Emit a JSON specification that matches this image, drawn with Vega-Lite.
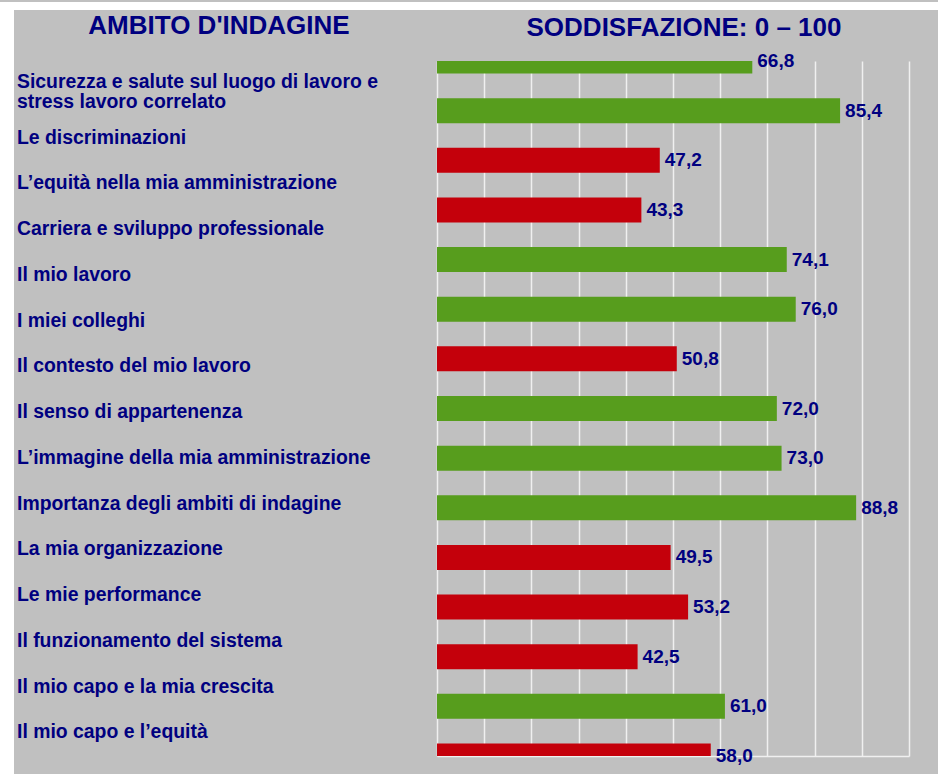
{
  "$schema": "https://vega.github.io/schema/vega-lite/v6.json",
  "background": "#c0c0c0",
  "padding": 0,
  "spacing": 0,
  "bounds": "flush",
  "datasets": {
    "ambiti": [
      {"ambito": "Sicurezza e salute sul luogo di lavoro e\nstress lavoro correlato", "value": 66.8},
      {"ambito": "Le discriminazioni", "value": 85.4},
      {"ambito": "L’equità nella mia amministrazione", "value": 47.2},
      {"ambito": "Carriera e sviluppo professionale", "value": 43.3},
      {"ambito": "Il mio lavoro", "value": 74.1},
      {"ambito": "I miei colleghi", "value": 76.0},
      {"ambito": "Il contesto del mio lavoro", "value": 50.8},
      {"ambito": "Il senso di appartenenza", "value": 72.0},
      {"ambito": "L’immagine della mia amministrazione", "value": 73.0},
      {"ambito": "Importanza degli ambiti di indagine", "value": 88.8},
      {"ambito": "La mia organizzazione", "value": 49.5},
      {"ambito": "Le mie performance", "value": 53.2},
      {"ambito": "Il funzionamento del sistema", "value": 42.5},
      {"ambito": "Il mio capo e la mia crescita", "value": 61.0},
      {"ambito": "Il mio capo e l’equità", "value": 58.0}
    ]
  },
  "config": {
    "view": {"stroke": null},
    "locale": {"number": {"decimal": ",", "thousands": ".", "grouping": [3], "currency": ["€", ""]}},
    "text": {"font": "Liberation Sans", "fontWeight": "bold", "color": "#000080"}
  },
  "vconcat": [
    {
      "width": 938,
      "height": 8,
      "view": {"fill": "white", "stroke": null},
      "data": {"values": [{}]},
      "mark": {"type": "text", "text": ""},
      "encoding": {}
    },
    {
      "spacing": 0,
      "bounds": "flush",
      "hconcat": [
        {
          "width": 14,
          "height": 766,
          "view": {"fill": "white", "stroke": null},
          "data": {"values": [{}]},
          "mark": {"type": "text", "text": ""},
          "encoding": {}
        },
        {
          "width": 423,
          "height": 732,
          "layer": [
            {
              "data": {"values": [{}]},
              "mark": {"type": "text", "text": "AMBITO D'INDAGINE", "fontSize": 26, "align": "center", "baseline": "middle"},
              "encoding": {"x": {"value": 205}, "y": {"value": 15.5}}
            },
            {
              "data": {"name": "ambiti"},
              "mark": {"type": "text", "align": "left", "baseline": "middle", "fontSize": 19.4, "lineBreak": "\n", "lineHeight": 20, "dx": 3,
                       "dy": {"expr": "indexof(datum.ambito, '\\n') >= 0 ? -10 : 0"}},
              "encoding": {
                "x": {"datum": 0, "type": "quantitative", "scale": {"domain": [0, 1]}, "axis": null},
                "y": {"field": "ambito", "type": "nominal", "sort": null, "scale": {"type": "point", "padding": 1, "align": 0.896}, "axis": null},
                "text": {"field": "ambito"}
              }
            }
          ]
        },
        {
          "spacing": 0,
          "bounds": "flush",
          "vconcat": [
            {
              "width": 472,
              "height": 51,
              "data": {"values": [{}]},
              "mark": {"type": "text", "text": "SODDISFAZIONE: 0 – 100", "fontSize": 26, "align": "center", "baseline": "middle"},
              "encoding": {"x": {"value": 247}, "y": {"value": 17.5}}
            },
            {
              "width": 472,
              "height": 695,
              "data": {"name": "ambiti"},
              "encoding": {
                "y": {"field": "ambito", "type": "nominal", "sort": null, "scale": {"type": "point", "padding": 0}, "axis": null}
              },
              "layer": [
                {
                  "mark": {"type": "bar", "height": 25, "clip": true},
                  "encoding": {
                    "x": {
                      "field": "value", "type": "quantitative",
                      "scale": {"domain": [0, 100], "nice": false, "zero": true},
                      "axis": {"values": [0, 10, 20, 30, 40, 50, 60, 70, 80, 90, 100], "grid": true, "gridColor": "#f0f0f0", "gridWidth": 1.5, "gridOpacity": 1, "labels": false, "ticks": false, "domain": true, "domainColor": "#f0f0f0", "domainWidth": 1.5, "title": null}
                    },
                    "color": {"condition": {"test": "datum.value >= 60", "value": "#579d1d"}, "value": "#c4000b"}
                  }
                },
                {
                  "mark": {"type": "text", "align": "left", "baseline": "middle", "dx": 5, "fontSize": 19},
                  "encoding": {
                    "x": {"field": "value", "type": "quantitative"},
                    "text": {"field": "value", "type": "quantitative", "format": ".1f"}
                  }
                }
              ]
            }
          ]
        }
      ]
    }
  ]
}
